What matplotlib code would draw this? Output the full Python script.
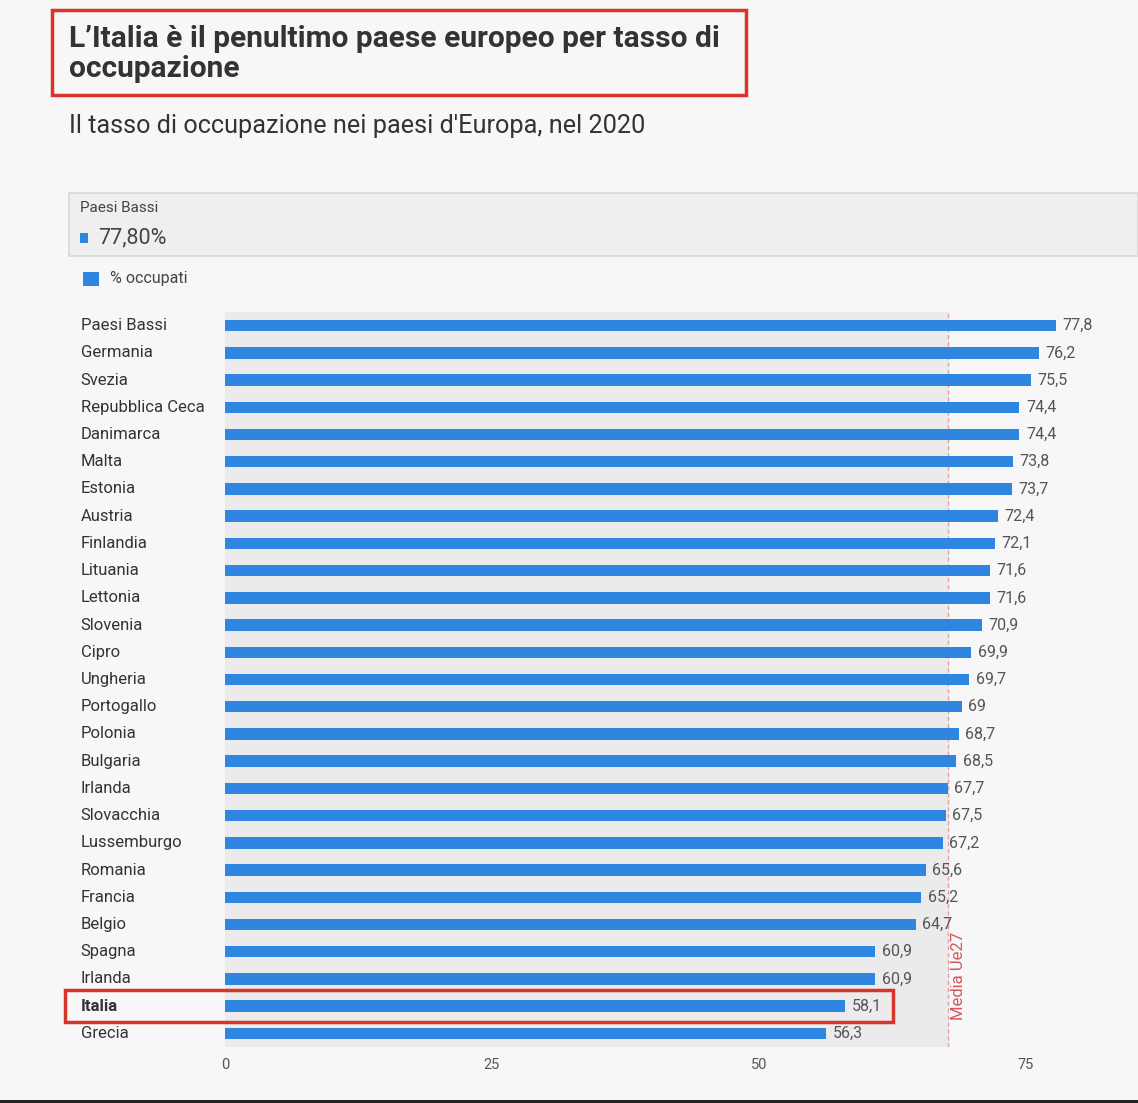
import matplotlib.pyplot as plt
from matplotlib.patches import Rectangle

plt.rcParams["font.family"] = ["Roboto", "DejaVu Sans"]

countries = ["Paesi Bassi", "Germania", "Svezia", "Repubblica Ceca", "Danimarca", "Malta",
             "Estonia", "Austria", "Finlandia", "Lituania", "Lettonia", "Slovenia", "Cipro",
             "Ungheria", "Portogallo", "Polonia", "Bulgaria", "Irlanda", "Slovacchia",
             "Lussemburgo", "Romania", "Francia", "Belgio", "Spagna", "Irlanda", "Italia", "Grecia"]
values = [77.8, 76.2, 75.5, 74.4, 74.4, 73.8, 73.7, 72.4, 72.1, 71.6, 71.6, 70.9, 69.9,
          69.7, 69, 68.7, 68.5, 67.7, 67.5, 67.2, 65.6, 65.2, 64.7, 60.9, 60.9, 58.1, 56.3]
eu_mean = 67.7
xticks = [0, 25, 50, 75]

blue = "#2f86e0"
bg = "#f7f7f7"

fig = plt.figure(figsize=(11.38, 11.03), dpi=100, facecolor=bg)
W, H = 1138, 1103

def fx(px):
    return px / W

def fy(py):
    return 1 - py / H

# title and subtitle
fig.text(fx(69), fy(54), "L’Italia è il penultimo paese europeo per tasso di\noccupazione",
         fontsize=21.5, fontweight="bold", color="#333333", va="center", linespacing=1.1)
fig.patches.append(Rectangle((fx(52), fy(95)), fx(694), 85 / H, transform=fig.transFigure,
                             fill=False, edgecolor="#d9342b", lw=2.5))
fig.text(fx(69), fy(126), "Il tasso di occupazione nei paesi d'Europa, nel 2020",
         fontsize=18.2, color="#333333", va="center")

# tooltip-like header panel
fig.patches.append(Rectangle((fx(69), fy(256)), 1 - fx(69), 63 / H, transform=fig.transFigure,
                             facecolor="#efefef", edgecolor="#d8d8d8", lw=1.2))
fig.text(fx(80), fy(208), "Paesi Bassi", fontsize=11, color="#444444", va="center")
fig.patches.append(Rectangle((fx(80), fy(243)), 8 / W, 10 / H, transform=fig.transFigure,
                             facecolor=blue))
fig.text(fx(98), fy(238), "77,80%", fontsize=15.5, color="#444444", va="center")

# legend
fig.patches.append(Rectangle((fx(83), fy(286)), 16 / W, 14 / H, transform=fig.transFigure,
                             facecolor=blue))
fig.text(fx(110), fy(279), "% occupati", fontsize=11.5, color="#444444", va="center")

ax = fig.add_axes([fx(225), fy(1047), 1 - fx(225), (1047 - 312) / H])
ax.set_facecolor(bg)
n = len(countries)
ypos = list(range(n))
ax.axvspan(0, eu_mean, color="#ebebeb", zorder=0)
ax.barh(ypos, values, height=0.42, color=blue, zorder=2)
ax.axvline(eu_mean, color="#e8a0a0", ls=(0, (3, 2)), lw=1, zorder=1)
ax.text(eu_mean + 1.0, n - 1.5, "Media Ue27", rotation=90, color="#d0585a",
        fontsize=12, va="bottom", ha="center")
for y, v in zip(ypos, values):
    ax.text(v + 0.6, y, f"{v:g}".replace(".", ","), va="center", fontsize=11.5, color="#555555")
ax.set_ylim(n - 0.5, -0.5)
ax.set_xlim(0, 85.5)
ax.set_yticks(ypos)
ax.set_yticklabels([])
for y, c in zip(ypos, countries):
    ax.text(-13.5, y, c, va="center", ha="left", fontsize=12, color="#333333",
            fontweight="bold" if c == "Italia" else "normal")
ax.set_xticks(xticks)
ax.set_xticklabels([str(t) for t in xticks], fontsize=10.5, color="#555555")
ax.tick_params(length=0, pad=8)
for s in ax.spines.values():
    s.set_visible(False)

# highlight Italy
fig.patches.append(Rectangle((fx(65), fy(1022)), fx(828), 32 / H, transform=fig.transFigure,
                             fill=False, edgecolor="#d9342b", lw=2.5))

# dark edge at the bottom of the screenshot
fig.patches.append(Rectangle((0, 0), 1, 3 / H, transform=fig.transFigure, facecolor="#222222"))

fig.savefig("out.png", dpi=100, facecolor=bg)
